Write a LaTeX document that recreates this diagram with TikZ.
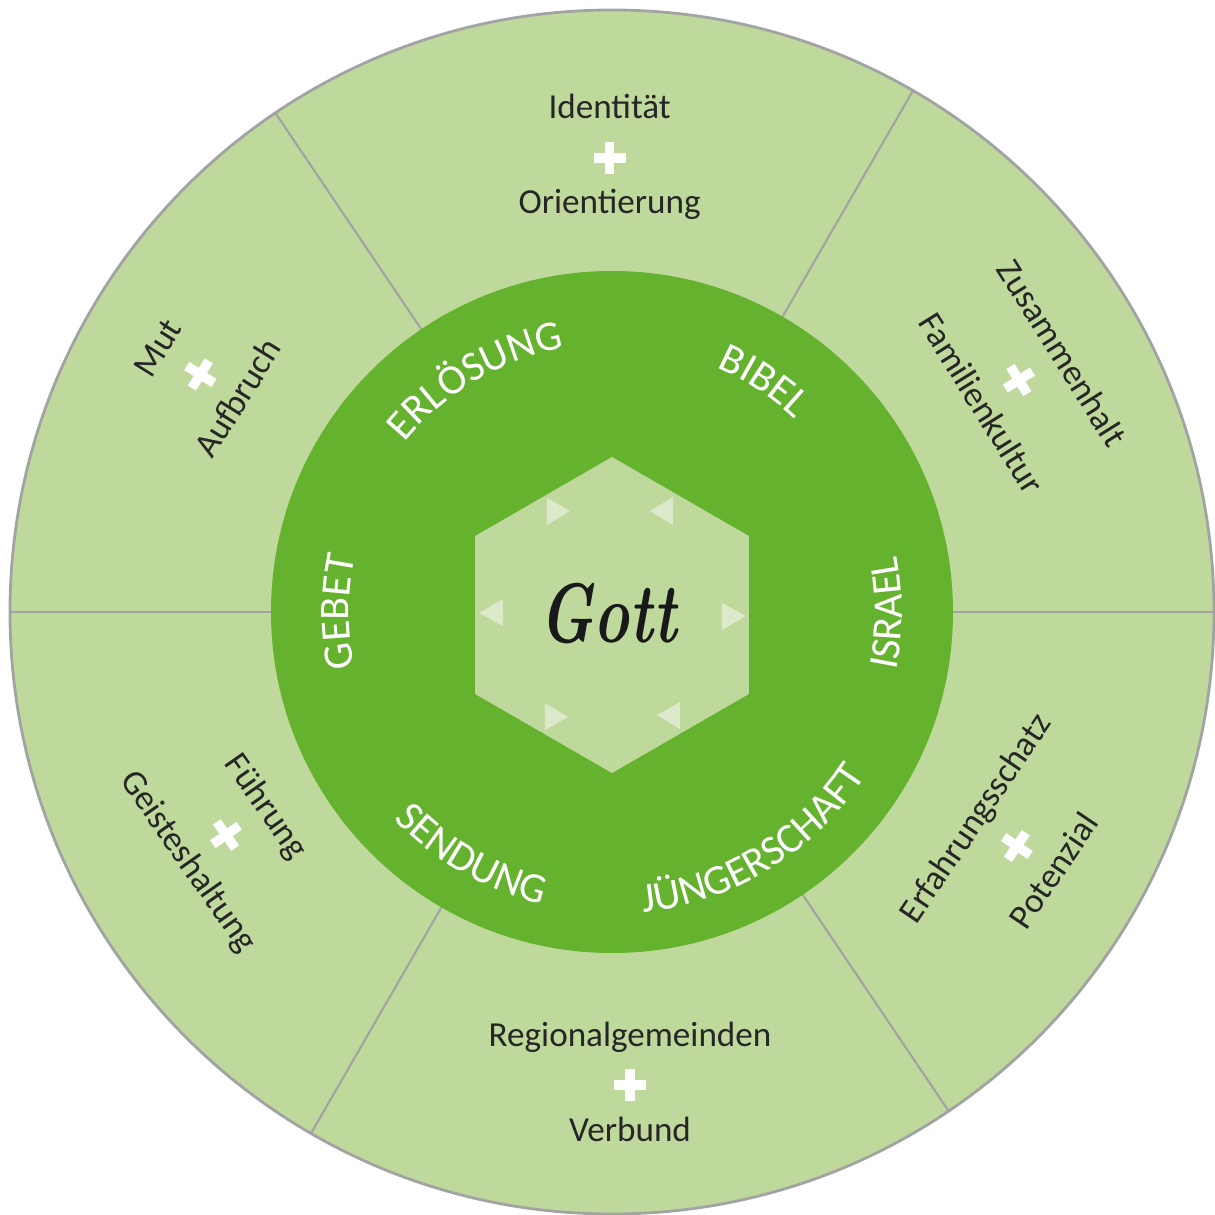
\documentclass[tikz,border=0pt]{standalone}
\usepackage{fontspec}
\newfontfamily\carlito{Carlito}
\usetikzlibrary{decorations.text}

\definecolor{aussengruen}{HTML}{BED99B}
\definecolor{ringgruen}{HTML}{65B22F}
\definecolor{pfeilgruen}{HTML}{DCEACB}
\definecolor{trenngrau}{HTML}{A3A3A3}

\newcommand{\ringfont}{\carlito\fontsize{12}{12}\selectfont}
\newcommand{\pluszeichen}{\makebox[3.2mm]{\color{white}%
  \rlap{\rule[\dimexpr2.4pt-0.48mm]{3.2mm}{0.96mm}}%
  \hspace*{1.12mm}\rule[\dimexpr2.4pt-1.6mm]{0.96mm}{3.2mm}\hspace*{1.12mm}}}

\begin{document}
\begin{tikzpicture}[
    teiler/.style={draw=trenngrau, line width=0.6pt},
    paar/.style={font=\carlito\fontsize{10}{13.5}\selectfont, align=center, text=black!85, inner sep=0pt},
    ringschrift/.style={decorate, decoration={text along path, text align=center, text color=white, text={|\ringfont|#1}}},
    pfeil/.style={fill=pfeilgruen},
    gott/.style={font=\fontsize{24}{24}\selectfont\bfseries\itshape, text=black!90, xscale=0.72, transform shape}
]
    \useasboundingbox (-6.12,-6.03) rectangle (6.03,6.12);

    % Outer ring with sectors
    \fill[aussengruen] (0,0) circle (6.02);
    \foreach \w in {0,60,124,180,240,304}
        \draw[teiler] (\w:3.41) -- (\w:6.02);
    \draw[trenngrau, line width=0.8pt] (0,0) circle (6.02);

    % Inner ring
    \fill[ringgruen] (0,0) circle (3.41);

    % Hexagon
    \fill[aussengruen, shift={(0,-0.03)}] (90:1.58) -- (150:1.58) -- (210:1.58) -- (270:1.58) -- (330:1.58) -- (30:1.58) -- cycle;

    % Small triangles
    \fill[pfeil] (-0.65,1.14) -- (-0.42,1.01) -- (-0.65,0.87) -- cycle;
    \fill[pfeil] (0.61,1.15) -- (0.38,1.01) -- (0.61,0.87) -- cycle;
    \fill[pfeil] (-1.09,0.13) -- (-1.33,-0.01) -- (-1.09,-0.14) -- cycle;
    \fill[pfeil] (1.10,0.09) -- (1.34,-0.04) -- (1.10,-0.18) -- cycle;
    \fill[pfeil] (-0.67,-0.91) -- (-0.44,-1.05) -- (-0.67,-1.18) -- cycle;
    \fill[pfeil] (0.68,-0.90) -- (0.45,-1.03) -- (0.68,-1.17) -- cycle;

    % Centre
    \node[gott] (gott) at (-0.04,-0.02) {Gott};

    % Ring words
    \path[ringschrift=ERLÖSUNG] (165.5:2.68) arc[start angle=165.5, end angle=75.5, radius=2.68];
    \path[ringschrift=BIBEL] (101.7:2.66) arc[start angle=101.7, end angle=11.7, radius=2.66];
    \path[ringschrift=GEBET] (225:2.63) arc[start angle=225, end angle=135, radius=2.63];
    \path[ringschrift=ISRAEL] (-45.3:2.90) arc[start angle=-45.3, end angle=44.7, radius=2.90];
    \path[ringschrift=JÜNGERSCHAFT] (-103.4:3.02) arc[start angle=-103.4, end angle=-13.4, radius=3.02];
    \path[ringschrift=SENDUNG] (195:3.01) arc[start angle=195, end angle=285, radius=3.01];

    % Outer pairs
    \node[paar] (identitaet) at (90.3:4.55) {Identität\\\pluszeichen\\Orientierung};
    \node[paar, rotate=-58] (zusammenhalt) at (29.7:4.72) {Zusammenhalt\\\pluszeichen\\Familienkultur};
    \node[paar, rotate=58] (mut) at (150:4.78) {Mut\\\pluszeichen\\Aufbruch};
    \node[paar, rotate=-55] (fuehrung) at (210:4.45) {Führung\\\pluszeichen\\Geisteshaltung};
    \node[paar] (regional) at (272.2:4.70) {Regionalgemeinden\\\pluszeichen\\Verbund};
    \node[paar, rotate=56] (erfahrung) at (330:4.64) {Erfahrungsschatz\\\pluszeichen\\Potenzial};

\end{tikzpicture}
\end{document}
